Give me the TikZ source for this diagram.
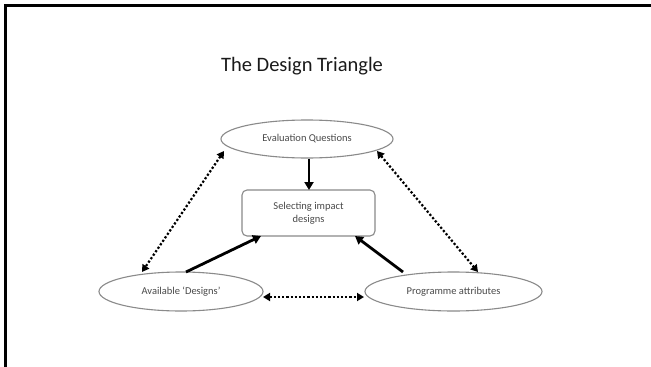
\documentclass[tikz,border=0pt]{standalone}
\usepackage{fontspec}
\setmainfont{Carlito}
\usetikzlibrary{shapes.geometric,arrows.meta}
\definecolor{elline}{HTML}{8A8A8A}
\definecolor{eltext}{HTML}{4A4A4A}
\tikzset{
  ell/.style={ellipse,draw=elline,line width=1.1pt,inner sep=0pt,text=eltext,font=\fontsize{10.5}{12}\selectfont},
  selbox/.style={rectangle,rounded corners=5pt,draw=elline,line width=1.1pt,inner sep=0pt,text=eltext,align=center,font=\fontsize{10.5}{13}\selectfont},
  solidarrow/.style={line width=2.8pt,-{Triangle[length=8pt,width=9pt]}},
  dotarrow/.style={line width=2.2pt,dotted,{Triangle[length=7pt,width=8pt]}-{Triangle[length=7pt,width=8pt]}},
}
\begin{document}
\begin{tikzpicture}[x=1pt,y=-1pt]
\useasboundingbox (0,0) rectangle (651,367);
\fill[white] (0,0) rectangle (651,367);
\draw[line width=3.5pt] (5.5,367) -- (5.5,5.5) -- (651,5.5);
\node (title) at (302,66) {\fontsize{20.5}{24}\selectfont\addfontfeature{Color=1A1A1A}The Design Triangle};
\node[ell,minimum width=172pt,minimum height=38pt] (eval) at (307,139) {Evaluation Questions};
\node[ell,minimum width=164pt,minimum height=39pt] (avail) at (181,291.5) {Available `Designs'};
\node[ell,minimum width=177pt,minimum height=39pt] (prog) at (453.5,291.5) {Programme attributes};
\node[selbox,minimum width=133pt,minimum height=46pt] (sel) at (308.5,213) {Selecting impact\\designs};
\coordinate (evalbot) at (309,158.5);
\coordinate (seltop) at (309,190);
\draw[solidarrow] (evalbot) -- (seltop);
\coordinate (availtop) at (186,272);
\coordinate (selbl) at (261,236);
\draw[solidarrow] (availtop) -- (selbl);
\coordinate (progtop) at (403,272);
\coordinate (selbr) at (355,236);
\draw[solidarrow] (progtop) -- (selbr);
\coordinate (evall) at (224,151);
\coordinate (availl) at (142,272);
\draw[dotarrow] (evall) -- (availl);
\coordinate (evalr) at (377,151);
\coordinate (progr) at (478,272);
\draw[dotarrow] (evalr) -- (progr);
\coordinate (availr) at (263,297);
\coordinate (progl) at (364,297);
\draw[dotarrow] (availr) -- (progl);
\end{tikzpicture}
\end{document}
